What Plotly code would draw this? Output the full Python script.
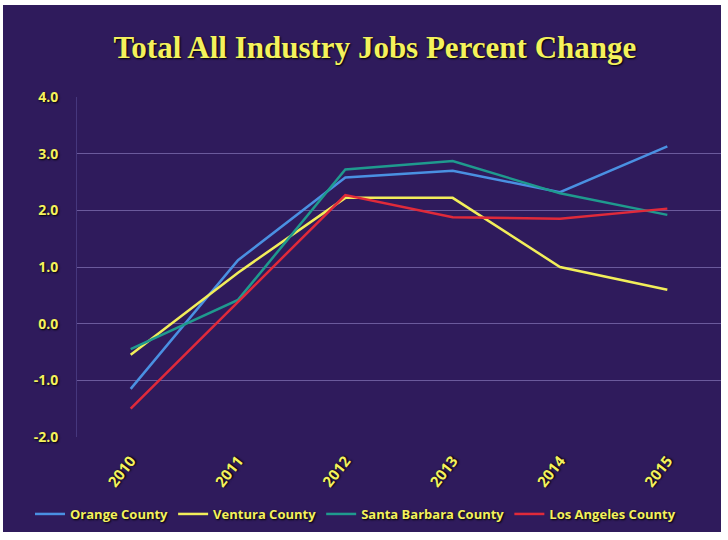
import plotly.graph_objects as go

years = ["2010", "2011", "2012", "2013", "2014", "2015"]
orange = [-1.15, 1.12, 2.58, 2.70, 2.32, 3.13]
ventura = [-0.55, 0.90, 2.22, 2.22, 1.00, 0.60]
santa_barbara = [-0.45, 0.42, 2.72, 2.87, 2.30, 1.92]
los_angeles = [-1.50, 0.38, 2.27, 1.88, 1.85, 2.03]
y_tick_values = [-2, -1, 0, 1, 2, 3, 4]
y_tick_labels = ["-2.0", "-1.0", "0.0", "1.0", "2.0", "3.0", "4.0"]

series = [
    ("Orange County", orange, "#4a90e2"),
    ("Ventura County", ventura, "#f2ee5a"),
    ("Santa Barbara County", santa_barbara, "#1f9a8e"),
    ("Los Angeles County", los_angeles, "#e02a3a"),
]

BG = "#2f1b5c"
YEL = "#f4f25c"
SHADOW = "1px 1px 2px #000000"

fig = go.Figure()
for name, vals, col in series:
    fig.add_trace(go.Scatter(x=years, y=vals, name=name, mode="lines",
                             line=dict(color=col, width=2.5)))

W, H = 728, 540
L, R, T, B = 77, 7, 97, 103
pw, ph = W - L - R, H - T - B

def px(x):
    return (x - L) / pw

def py(y):
    return (H - B - y) / ph

fig.add_shape(type="rect", xref="paper", yref="paper",
              x0=px(3), x1=px(721), y0=py(532), y1=py(5),
              fillcolor=BG, line=dict(width=0), layer="below")

fig.update_layout(
    width=W, height=H,
    margin=dict(l=L, r=R, t=T, b=B),
    paper_bgcolor="white",
    plot_bgcolor="rgba(0,0,0,0)",
    title=dict(text="<b>Total All Industry Jobs Percent Change</b>",
               x=0.515, xanchor="center", y=1 - 47 / H, yanchor="middle",
               font=dict(family="Liberation Serif", size=31, color=YEL, shadow=SHADOW)),
    font=dict(family="Open Sans", color=YEL, size=13, shadow=SHADOW),
    showlegend=True,
    legend=dict(orientation="h", x=px(30), xanchor="left", y=py(514), yanchor="middle",
                font=dict(family="Open Sans", size=13, color=YEL, weight=700, shadow=SHADOW),
                bgcolor="rgba(0,0,0,0)", itemwidth=30, tracegroupgap=0),
    xaxis=dict(type="category", range=[-0.5, 5.5], tickangle=-52, showgrid=False,
               zeroline=False, showline=False, ticks="", ticklabelstandoff=11,
               tickfont=dict(family="Open Sans", size=15, color=YEL, weight=700, shadow=SHADOW)),
    yaxis=dict(range=[-2, 4], tickvals=y_tick_values, ticktext=y_tick_labels,
               showgrid=True, gridcolor="#6b5a9c", gridwidth=1, zeroline=False,
               showline=True, linecolor="#46377d", linewidth=1,
               ticks="", ticklabelstandoff=15,
               tickfont=dict(family="Open Sans", size=14, color=YEL, weight=700, shadow=SHADOW)),
)

fig.write_html("out.html")
